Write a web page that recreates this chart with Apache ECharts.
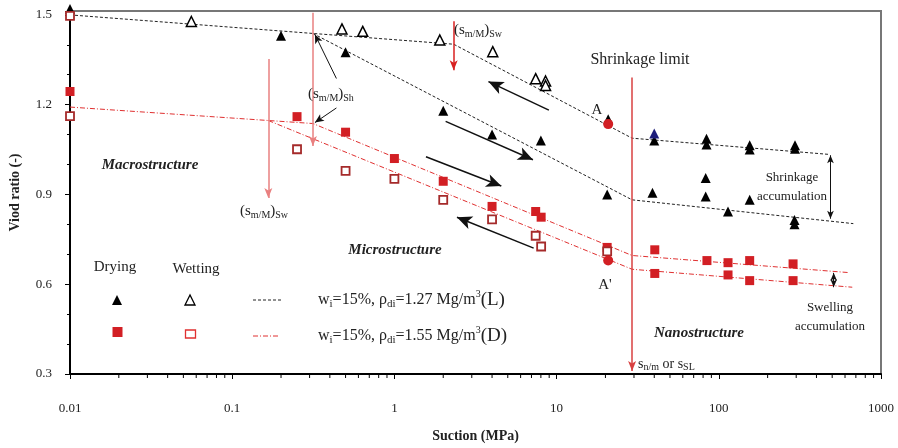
<!DOCTYPE html>
<html><head><meta charset="utf-8">
<script src="https://cdn.jsdelivr.net/npm/echarts@6/dist/echarts.min.js"></script>
<style>html,body{margin:0;padding:0;background:#fff}#c{width:898px;height:448px}</style>
</head><body><div id="c"></div>
<script>
// ---- tick labels ----
const xTickLabels = ['0.01','0.1','1','10','100','1000'];
const yTickLabels = ['0.3','0.6','0.9','1.2','1.5'];
const xMinorTicks = [];
[0.01,0.1,1,10,100].forEach(d=>{for(let k=2;k<=9;k++) xMinorTicks.push(+(d*k).toPrecision(3));});

// ---- data: suction (MPa), void ratio ----
const dryingL = [[0.01,1.52],[0.2,1.43],[0.5,1.375],[2,1.18],[4,1.10],[8,1.08],[20.5,0.90],[20.8,1.151],
  [40,1.08],[39,0.906],[84,1.086],[84,1.067],[83,0.955],[83,0.893],[114,0.843],[155,1.064],[155,1.050],
  [155,0.882],[295,1.064],[295,1.053],[293,0.815],[293,0.800]];
const dryingLBlue = [[40,1.104]];
const wettingL = [[0.056,1.478],[0.475,1.453],[0.638,1.445],[1.905,1.416],[4.04,1.377],[7.43,1.287],[8.55,1.279],[8.55,1.264]];
const dryingD = [[0.01,1.244],[0.251,1.16],[0.5,1.108],[1.0,1.02],[2.0,0.944],[4.0,0.86],[7.43,0.843],[8.03,0.824],
  [20.5,0.723],[40.3,0.715],[40.3,0.636],[84.5,0.679],[114,0.672],[114,0.631],[155,0.679],[155,0.612],[287,0.668],[287,0.612]];
const wettingD = [[0.01,1.497],[0.01,1.162],[0.251,1.051],[0.5,0.979],[1.0,0.952],[2.0,0.882],[4.0,0.817],[7.43,0.762],[8.03,0.726],[20.5,0.710]];
const pointA = [[20.8,1.135]];
const pointA2 = [[20.8,0.679]];

// ---- trend lines ----
const lineLUpper = [[0.01,1.5],[0.3145,1.438],[2.32,1.402],[29.2,1.088],[474,1.034]];
const lineLLower = [[0.3145,1.438],[29.2,0.882],[675,0.8025]];
const lineDUpper = [[0.01,1.192],[0.3145,1.137],[29.2,0.696],[628,0.639]];
const lineDLower = [[0.167,1.147],[29.2,0.650],[665,0.590]];

// ---- annotation arrows [from, to] ----
const redArrows = [
  {from:[0.167,1.353], to:[0.167,0.888], color:'#e98080'},
  {from:[0.3145,1.507], to:[0.3145,1.062], color:'#e98080'},
  {from:[2.32,1.479], to:[2.32,1.315], color:'#d82020'},
  {from:[29.2,1.291], to:[29.2,0.31], color:'#d84040'}
];
const blackArrows = [
  {from:[8.96,1.182], to:[3.80,1.277], w:1.5, s:[10,15]},
  {from:[2.07,1.144], to:[7.15,1.016], w:1.5, s:[10,15]},
  {from:[1.565,1.026], to:[4.56,0.928], w:1.5, s:[10,15]},
  {from:[7.22,0.7207], to:[2.43,0.824], w:1.5, s:[10,15]},
  {from:[0.439,1.2874], to:[0.3235,1.4346], w:1, s:[6,9]},
  {from:[0.439,1.189], to:[0.3235,1.140], w:1, s:[6,9]}
];
const doubleArrows = [
  {from:[488,1.031], to:[488,0.819]},
  {from:[511,0.638], to:[511,0.590]}
];

const FONT = 'Liberation Serif';
const RED = '#d21f24';

function mkLines(){
  const d = [];
  redArrows.forEach(a=>d.push([{coord:a.from, symbol:'none', lineStyle:{color:a.color,width:1.5,type:'solid'}},
    {coord:a.to, symbol:'arrow', symbolSize:[6,10]}]));
  blackArrows.forEach(a=>d.push([{coord:a.from, symbol:'none', lineStyle:{color:'#111',width:a.w,type:'solid'}},
    {coord:a.to, symbol:'arrow', symbolSize:a.s}]));
  doubleArrows.forEach(a=>d.push([{coord:a.from, symbol:'arrow', symbolSize:[5,8], lineStyle:{color:'#111',width:1,type:'solid'}},
    {coord:a.to, symbol:'arrow', symbolSize:[5,8]}]));
  return d;
}

const chart = echarts.init(document.getElementById('c'), null, {renderer:'canvas'});
const subR = {
  n:{fontSize:15, fontFamily:FONT, fill:'#222'},
  s:{fontSize:10, fontFamily:FONT, fill:'#222', padding:[8,0,0,0]}
};
const legR = {
  n:{fontSize:16, fontFamily:FONT, fill:'#222'},
  s:{fontSize:11, fontFamily:FONT, fill:'#222', padding:[9,0,0,0]},
  p:{fontSize:10, fontFamily:FONT, fill:'#222', padding:[0,0,11,0]},
  b:{fontSize:19, fontFamily:FONT, fill:'#222'}
};
function txt(x,y,text,opt){
  return Object.assign({type:'text', x, y, z:100, silent:true,
    style:Object.assign({text, fontFamily:FONT, fontSize:15, fill:'#222', align:'center', verticalAlign:'middle'}, opt||{})});
}
const graphics = [
  txt(150,165,'Macrostructure',{fontWeight:'bold',fontStyle:'italic',fontSize:15}),
  txt(395,250,'Microstructure',{fontWeight:'bold',fontStyle:'italic',fontSize:15}),
  txt(699,333,'Nanostructure',{fontWeight:'bold',fontStyle:'italic',fontSize:15}),
  txt(640,60,'Shrinkage limit',{fontSize:16}),
  txt(597,110,'A',{fontSize:15}),
  txt(605,285,"A'",{fontSize:15}),
  txt(792,178,'Shrinkage',{fontSize:13}),
  txt(792,197,'accumulation',{fontSize:13}),
  txt(830,308,'Swelling',{fontSize:13}),
  txt(830,327,'accumulation',{fontSize:13}),
  txt(308,94,'{n|(s}{s|m/M}{n|)}{s|Sh}',{align:'left',rich:subR}),
  txt(240,211,'{n|(s}{s|m/M}{n|)}{s|Sw}',{align:'left',rich:subR}),
  txt(454,30,'{n|(s}{s|m/M}{n|)}{s|Sw}',{align:'left',rich:subR}),
  txt(638,364,'{n|s}{s|n/m}{n| or s}{s|SL}',{align:'left',rich:{n:{fontSize:14,fontFamily:FONT,fill:'#222'},s:{fontSize:10,fontFamily:FONT,fill:'#222',padding:[7,0,0,0]}}}),
  // legend
  txt(115,267,'Drying',{fontSize:15}),
  txt(196,269,'Wetting',{fontSize:15}),
  {type:'polygon', z:100, silent:true, shape:{points:[[117,295],[112,305],[122,305]]}, style:{fill:'#000'}},
  {type:'polygon', z:100, silent:true, shape:{points:[[190,295],[185,305],[195,305]]}, style:{fill:'#fff',stroke:'#000',lineWidth:1.3}},
  {type:'rect', z:100, silent:true, shape:{x:112.5,y:327,width:10,height:10}, style:{fill:RED}},
  {type:'rect', z:100, silent:true, shape:{x:185.5,y:330,width:10,height:8}, style:{fill:'#fff',stroke:'#e03030',lineWidth:1.3}},
  {type:'line', z:100, silent:true, shape:{x1:253,y1:300,x2:281,y2:300}, style:{stroke:'#222',lineWidth:1,lineDash:[3,2]}},
  {type:'line', z:100, silent:true, shape:{x1:253,y1:336,x2:280,y2:336}, style:{stroke:'#e03030',lineWidth:1,lineDash:[5,2,1,2]}},
  txt(318,300,'{n|w}{s|i}{n|=15%, ρ}{s|di}{n|=1.27 Mg/m}{p|3}{b|(L)}',{align:'left',rich:legR}),
  txt(318,336,'{n|w}{s|i}{n|=15%, ρ}{s|di}{n|=1.55 Mg/m}{p|3}{b|(D)}',{align:'left',rich:legR})
];

chart.setOption({
  animation:false,
  backgroundColor:'#fff',
  grid:{left:63, right:17, top:11, bottom:66, show:true, borderColor:'#777', borderWidth:2, backgroundColor:'transparent'},
  xAxis:{type:'log', logBase:10, min:0.01, max:1000,
    name:'Suction (MPa)', nameLocation:'middle', nameGap:55,
    nameTextStyle:{fontFamily:FONT, fontWeight:'bold', fontSize:14, color:'#222'},
    axisLine:{lineStyle:{color:'#000', width:2}},
    axisTick:{show:true, length:5, lineStyle:{color:'#000'}},
    axisLabel:{fontFamily:FONT, fontSize:13, color:'#222', margin:28, formatter:(v,i)=>xTickLabels[i]!==undefined?xTickLabels[i]:''},
    splitLine:{show:false}, minorTick:{show:false}},
  yAxis:{type:'value', min:0.3, max:1.513, interval:0.3,
    name:'Viod ratio (-)', nameLocation:'middle', nameGap:48,
    nameTextStyle:{fontFamily:FONT, fontWeight:'bold', fontSize:14, color:'#222'},
    axisLine:{show:true, lineStyle:{color:'#000', width:2}},
    axisTick:{show:true, length:5, lineStyle:{color:'#000'}},
    minorTick:{show:true, splitNumber:3, length:3, lineStyle:{color:'#000'}},
    axisLabel:{fontFamily:FONT, fontSize:13, color:'#222', margin:18,
      formatter:(v)=>{const k=Math.round((v-0.3)/0.3); return Math.abs(v-0.3-k*0.3)<1e-6 && yTickLabels[k]?yTickLabels[k]:'';}},
    splitLine:{show:false}},
  graphic:graphics,
  series:[
    {type:'custom', silent:true, clip:false, z:5, data:xMinorTicks.map(v=>[v,0.3]),
      renderItem:(p,api)=>{const c=api.coord([api.value(0),0.3]);return {type:'line',shape:{x1:c[0],y1:c[1]+1,x2:c[0],y2:c[1]+4},style:{stroke:'#000',lineWidth:1}};}},
    {type:'line', data:lineLUpper, symbol:'none', silent:true, z:2, lineStyle:{color:'#222',width:1,type:[3,2]}},
    {type:'line', data:lineLLower, symbol:'none', silent:true, z:2, lineStyle:{color:'#222',width:1,type:[3,2]}},
    {type:'line', data:lineDUpper, symbol:'none', silent:true, z:2, lineStyle:{color:'#e03030',width:1,type:[5,2,1,2]}},
    {type:'line', data:lineDLower, symbol:'none', silent:true, z:2, lineStyle:{color:'#e03030',width:1,type:[5,2,1,2]},
      markLine:{silent:true, animation:false, label:{show:false}, data:mkLines()}},
    {type:'scatter', data:dryingL, symbol:'triangle', symbolSize:10, z:4, clip:false, itemStyle:{color:'#000',opacity:1}},
    {type:'scatter', data:dryingLBlue, symbol:'triangle', symbolSize:10, z:4, clip:false, itemStyle:{color:'#1c1c7a',opacity:1}},
    {type:'scatter', data:wettingL, symbol:'triangle', symbolSize:10, z:4, clip:false, itemStyle:{color:'#fff',borderColor:'#000',borderWidth:1.5,opacity:1}},
    {type:'scatter', data:dryingD, symbol:'rect', symbolSize:9, z:4, clip:false, itemStyle:{color:RED,opacity:1}},
    {type:'scatter', data:wettingD, symbol:'rect', symbolSize:8, z:5, clip:false, itemStyle:{color:'#fff',borderColor:'#a52a2a',borderWidth:1.8,opacity:1}},
    {type:'scatter', data:pointA.concat(pointA2), symbol:'circle', symbolSize:10, z:6, clip:false, itemStyle:{color:RED,opacity:1}}
  ]
});
</script></body></html>
